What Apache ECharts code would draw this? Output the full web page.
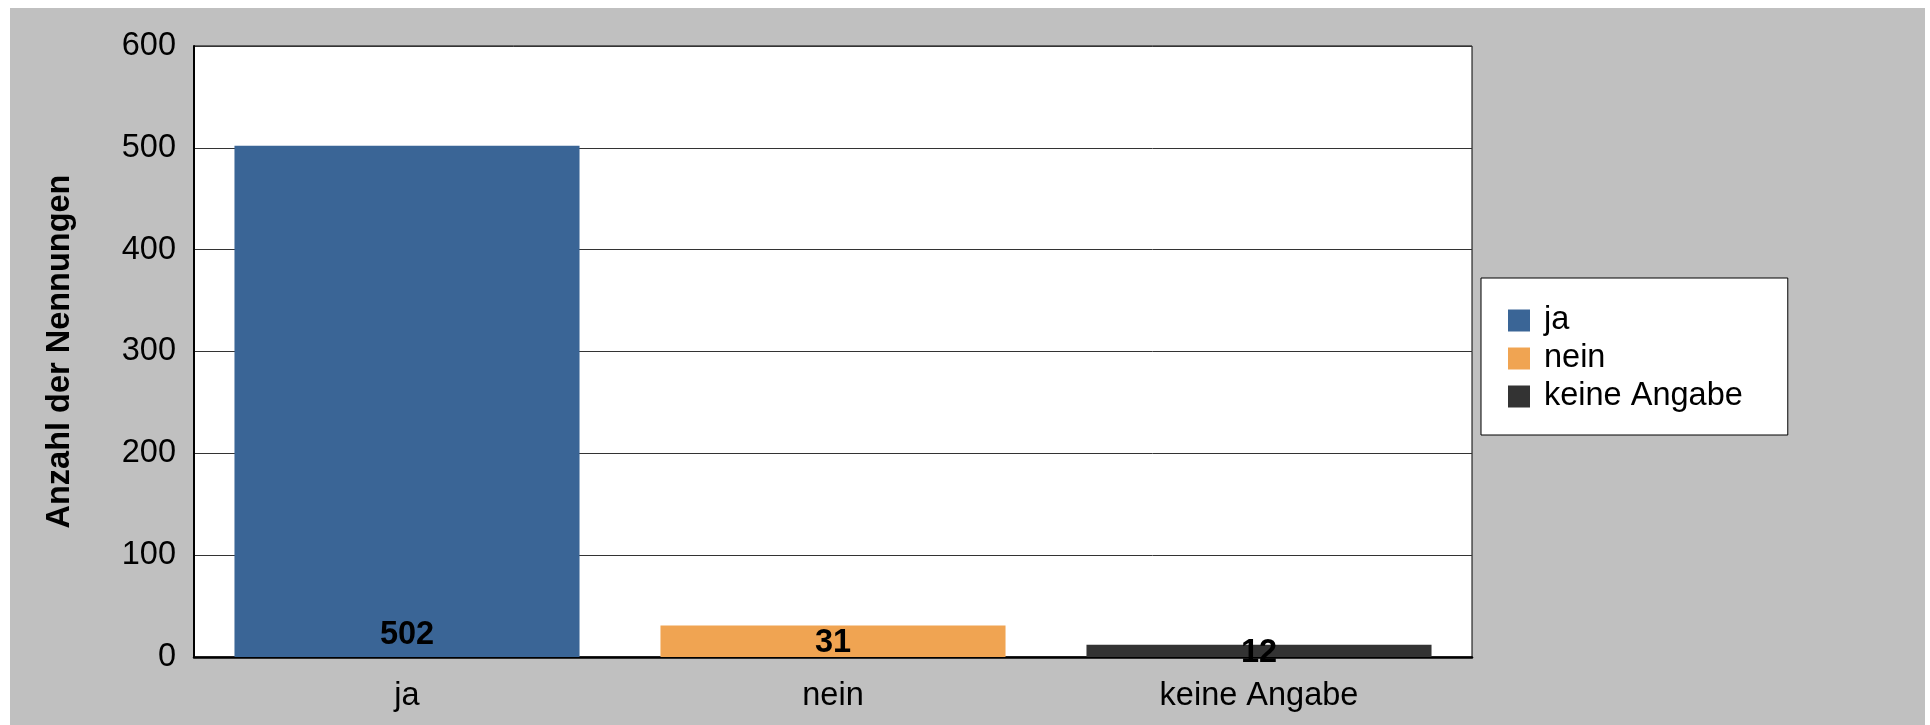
<!DOCTYPE html>
<html>
<head>
<meta charset="utf-8">
<script src="https://cdn.jsdelivr.net/npm/echarts@6/dist/echarts.min.js"></script>
<style>
html, body { margin: 0; padding: 0; background: #ffffff; overflow: hidden; width: 1930px; height: 725px; }
#chart { position: absolute; left: 10px; top: 8px; width: 1915px; height: 717px; background: #c0c0c0; }
</style>
</head>
<body>
<div id="chart"></div>
<script>
const categories = ['ja', 'nein', 'keine Angabe'];
const values = [502, 31, 12];
const yTicks = [0, 100, 200, 300, 400, 500, 600];
const yAxisTitle = 'Anzahl der Nennungen';
const barColors = ['#3a6596', '#f0a452', '#333333'];

const font = 'Liberation Sans, Arial, sans-serif';
const chart = echarts.init(document.getElementById('chart'), null, { renderer: 'canvas' });

const series = categories.map((name, i) => ({
  name: name,
  type: 'bar',
  stack: 'total',
  barCategoryGap: '19%',
  itemStyle: { color: barColors[i] },
  data: values.map((v, j) => {
    if (j !== i) return '-';
    const big = v > 60;
    return {
      value: v,
      label: {
        show: true,
        position: big ? 'insideBottom' : 'inside',
        distance: big ? 5 : 0,
        offset: big ? [0, 0] : [0, 2],
        formatter: '{c}',
        color: '#000',
        fontWeight: 'bold',
        fontSize: 32.5,
        fontFamily: font
      }
    };
  })
}));

chart.setOption({
  backgroundColor: 'transparent',
  animation: false,
  grid: {
    left: 184, right: 453, top: 38, bottom: 68,
    show: true, backgroundColor: '#ffffff', borderColor: '#000000', borderWidth: 1
  },
  legend: {
    orient: 'vertical',
    left: 1471, top: 270,
    padding: [26, 45, 22, 27],
    backgroundColor: '#ffffff',
    borderColor: '#000000',
    borderWidth: 1,
    borderRadius: 0,
    itemWidth: 22, itemHeight: 22, itemGap: 5,
    icon: 'rect',
    data: categories,
    textStyle: { fontSize: 32.5, color: '#000', fontFamily: font, padding: [0, 0, 0, 9] }
  },
  xAxis: {
    type: 'category',
    data: categories,
    axisLine: { show: true, lineStyle: { color: '#000', width: 2.5 } },
    axisTick: { show: false },
    axisLabel: { fontSize: 32.5, color: '#000', fontFamily: font, margin: 23 }
  },
  yAxis: {
    type: 'value',
    min: yTicks[0], max: yTicks[yTicks.length - 1], interval: 100,
    name: yAxisTitle,
    nameLocation: 'middle',
    nameGap: 117,
    nameTextStyle: { fontSize: 32.5, fontWeight: 'bold', color: '#000', fontFamily: font },
    axisLine: { show: true, lineStyle: { color: '#000', width: 2 } },
    axisTick: { show: false },
    axisLabel: { fontSize: 32.5, color: '#000', fontFamily: font, margin: 18 },
    splitLine: { show: true, lineStyle: { color: '#333333', width: 1 } }
  },
  series: series
});
</script>
</body>
</html>
